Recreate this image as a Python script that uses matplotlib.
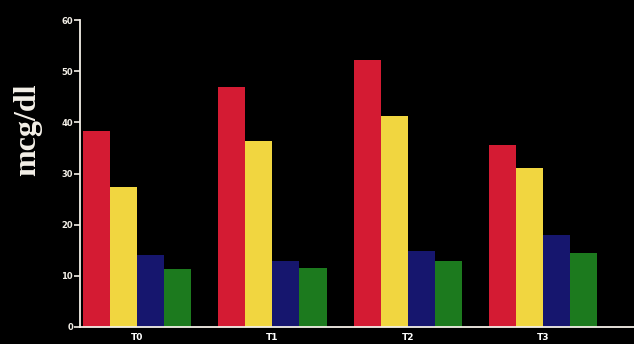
import matplotlib
matplotlib.use("Agg")
import matplotlib.pyplot as plt
import numpy as np

# values (mcg/dl)
timepoints = ["T0", "T1", "T2", "T3"]
red_vals = [38.4, 47.0, 52.1, 35.6]
yellow_vals = [27.4, 36.3, 41.2, 31.0]
blue_vals = [14.1, 12.9, 14.8, 18.0]
green_vals = [11.4, 11.6, 12.9, 14.4]
y_ticks = [0, 10, 20, 30, 40, 50, 60]

series = [red_vals, yellow_vals, blue_vals, green_vals]
colors = ["#D41B33", "#F1D640", "#16166E", "#1C7A1E"]

fig = plt.figure(figsize=(6.34, 3.44), dpi=100, facecolor="black")
ax = fig.add_axes([80 / 634, 1 - 327 / 344, 1 - 80 / 634, 307 / 344])
ax.set_facecolor("black")

x = np.arange(len(timepoints))
w = 0.2
for i, (vals, c) in enumerate(zip(series, colors)):
    ax.bar(x - 1.5 * w + i * w, vals, width=w, color=c, edgecolor="none", zorder=2)

ax.set_xlim(-0.42, 3.67)
ax.set_ylim(0, 60)
ax.set_yticks(y_ticks)
ax.set_yticklabels([str(t) for t in y_ticks], fontsize=6, fontweight="bold",
                   color="white", family="DejaVu Sans")
ax.set_xticks(x)
ax.set_xticklabels(timepoints, fontsize=6.5, fontweight="bold", color="white")

for s in ("top", "right"):
    ax.spines[s].set_visible(False)
for s in ("left", "bottom"):
    ax.spines[s].set_color("#F4F0E8")
    ax.spines[s].set_linewidth(1.3)
ax.tick_params(axis="y", colors="#F4F0E8", length=4, width=1.2, pad=1)
ax.tick_params(axis="x", length=0, pad=4)

fig.text(28 / 634, 1 - 130 / 344, "mcg/dl", rotation=90, ha="center", va="center",
         fontsize=23, fontweight="bold", family="Liberation Serif", color="#F4F0E8")

fig.savefig("out.png", dpi=100, facecolor="black")
